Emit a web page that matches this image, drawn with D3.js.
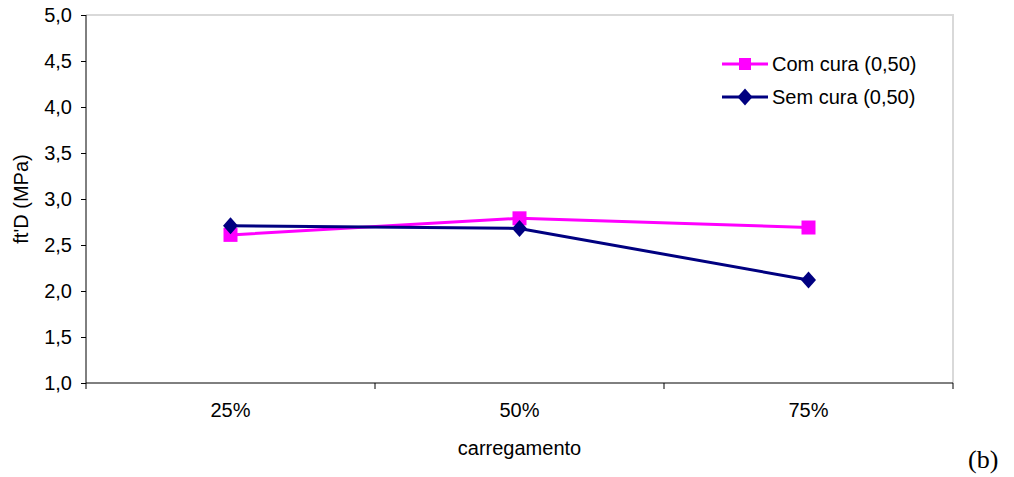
<!DOCTYPE html>
<html><head><meta charset="utf-8">
<script src="https://cdn.jsdelivr.net/npm/d3@7"></script>
<style>body{margin:0;background:#fff}svg{display:block}</style>
</head><body>
<script>
const categories = ["25%", "50%", "75%"];
const comCura = [2.61, 2.79, 2.69];
const semCura = [2.71, 2.68, 2.12];
const yTicks = [1.0, 1.5, 2.0, 2.5, 3.0, 3.5, 4.0, 4.5, 5.0];
const seriesNames = ["Com cura (0,50)", "Sem cura (0,50)"];

(function(){
const W = 1014, H = 477;
const svg = d3.select("body").append("svg").attr("width", W).attr("height", H);
const pL = 86, pR = 953, pT = 15, pB = 383;

const x = d3.scaleBand().domain(categories).range([pL, pR]);
const y = d3.scaleLinear().domain([1, 5]).range([pB, pT]);

// plot border (light gray top & right)
svg.append("path").attr("d", `M${pL},${pT}H${pR}V${pB}`)
  .attr("fill", "none").attr("stroke", "#d9d9d9").attr("stroke-width", 2);

const font = "'Liberation Sans', Arial, sans-serif";
const fs = 20;

// y axis
const ya = svg.append("g").attr("transform", `translate(${pL},0)`)
  .call(d3.axisLeft(y).tickValues(yTicks).tickSize(5).tickPadding(9)
    .tickFormat(d => d3.format(".1f")(d).replace(".", ",")));
ya.select(".domain").attr("stroke", "#000").attr("d", `M0,${pT}V${pB}`);
ya.selectAll("text").attr("font-family", font).attr("font-size", fs).attr("fill", "#000");

// x axis
const xa = svg.append("g").attr("transform", `translate(0,${pB})`)
  .call(d3.axisBottom(x).tickSize(0).tickPadding(20));
xa.select(".domain").attr("stroke", "#000").attr("d", `M${pL},0H${pR}`);
xa.selectAll("text").attr("font-family", font).attr("font-size", fs).attr("fill", "#000");
// category separator ticks
const seps = categories.map(c => x(c)).concat([x(categories[categories.length-1]) + x.bandwidth()]);
svg.append("g").selectAll("line").data(seps).join("line")
  .attr("x1", d => d).attr("x2", d => d).attr("y1", pB).attr("y2", pB + 6)
  .attr("stroke", "#000");

// axis titles
svg.append("text").attr("transform", `translate(28,${(pT+pB)/2}) rotate(-90)`)
  .attr("text-anchor", "middle").attr("font-family", font).attr("font-size", fs)
  .text("ft'D (MPa)");
svg.append("text").attr("x", (pL+pR)/2).attr("y", 455).attr("text-anchor", "middle")
  .attr("font-family", font).attr("font-size", fs).text("carregamento");
svg.append("text").attr("x", 968).attr("y", 468).attr("font-family", "'Liberation Serif', 'Times New Roman', serif")
  .attr("font-size", 26).text("(b)");

const cx = c => x(c) + x.bandwidth()/2;
const line = d3.line().x((d,i) => cx(categories[i])).y(d => y(d));
const colors = ["#ff00ff", "#000080"];

[comCura, semCura].forEach((vals, s) => {
  svg.append("path").datum(vals).attr("d", line).attr("fill", "none")
    .attr("stroke", colors[s]).attr("stroke-width", 3);
});
const sq = d3.symbol().type(d3.symbolSquare).size(196);
const diamondType = { draw(ctx, size) { const w = 7.5, h = 8.5;
  ctx.moveTo(0, -h); ctx.lineTo(w, 0); ctx.lineTo(0, h); ctx.lineTo(-w, 0); ctx.closePath(); } };
const dm = d3.symbol().type(diamondType).size(1);
svg.append("g").selectAll("path").data(comCura).join("path")
  .attr("transform", (d,i) => `translate(${cx(categories[i])},${y(d)})`)
  .attr("d", sq).attr("fill", colors[0]);
svg.append("g").selectAll("path").data(semCura).join("path")
  .attr("transform", (d,i) => `translate(${cx(categories[i])},${y(d)})`)
  .attr("d", dm).attr("fill", colors[1]);

// legend
const leg = svg.append("g");
[0,1].forEach(s => {
  const ly = 64 + s*33;
  leg.append("line").attr("x1", 722).attr("x2", 768).attr("y1", ly).attr("y2", ly)
    .attr("stroke", colors[s]).attr("stroke-width", 3);
  leg.append("path").attr("transform", `translate(745,${ly})`)
    .attr("d", s === 0 ? d3.symbol().type(d3.symbolSquare).size(144)() : dm).attr("fill", colors[s]);
  leg.append("text").attr("x", 772).attr("y", ly + 7).attr("font-family", font)
    .attr("font-size", fs).text(seriesNames[s]);
});
})();
</script>
</body></html>
